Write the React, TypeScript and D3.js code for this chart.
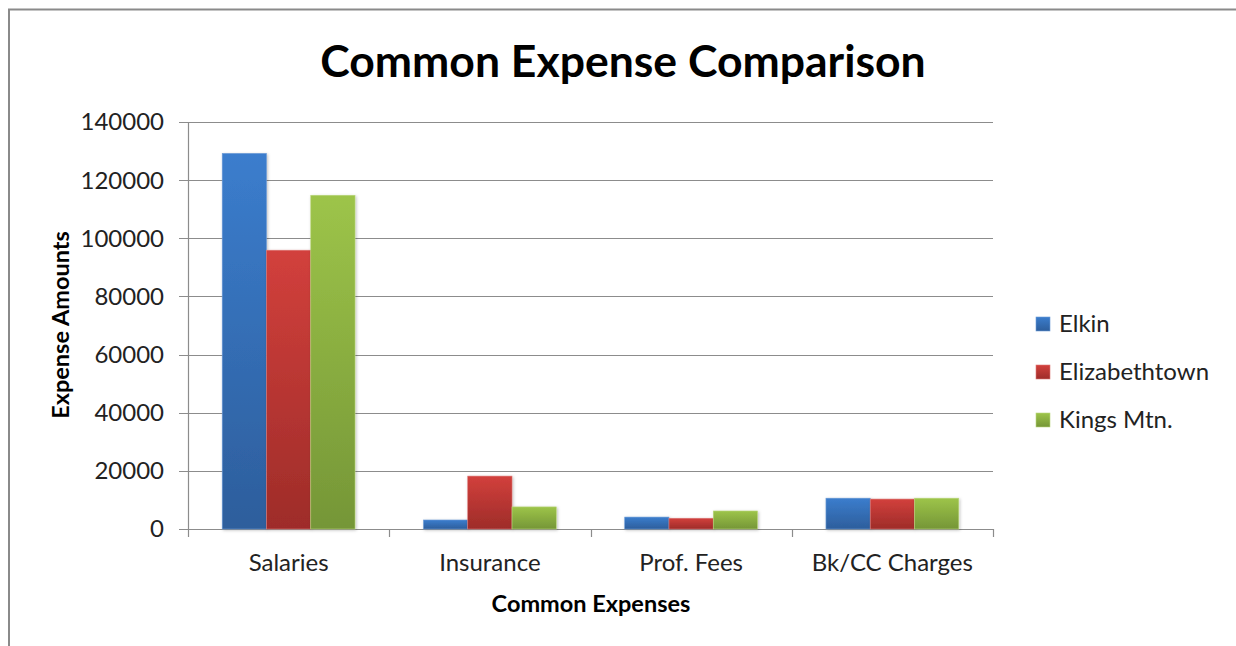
import React, { useEffect, useRef } from 'react';
import * as d3 from 'd3';

const categories = ['Salaries', 'Insurance', 'Prof. Fees', 'Bk/CC Charges'];
const seriesNames = ['Elkin', 'Elizabethtown', 'Kings Mtn.'];
const elkin = [129200, 3100, 4100, 10600];
const elizabethtown = [95900, 18200, 3700, 10300];
const kingsMtn = [114800, 7600, 6200, 10600];
const yTicks = [0, 20000, 40000, 60000, 80000, 100000, 120000, 140000];

const colors = [
  { top: '#3B7DCD', bottom: '#2D5E9C', stroke: '#6C9BD6' },
  { top: '#D2403C', bottom: '#9E2C29', stroke: '#DD7A77' },
  { top: '#9DC449', bottom: '#759637', stroke: '#BBD77F' },
];

const App: React.FC = () => {
  const svgRef = useRef<SVGSVGElement>(null);

  useEffect(() => {
    if (!svgRef.current) return;
    const svg = d3.select(svgRef.current);
    svg.selectAll('*').remove();

    const font = 'Lato, "Open Sans", sans-serif';
    const left = 188, right = 993, top = 122, bottom = 529;

    // outer frame
    svg.append('rect')
      .attr('x', 9).attr('y', 9.5)
      .attr('width', 1300).attr('height', 700)
      .attr('fill', 'white')
      .attr('stroke', '#8a8a8a').attr('stroke-width', 2);

    const defs = svg.append('defs');
    colors.forEach((c, i) => {
      const grad = defs.append('linearGradient')
        .attr('id', `grad${i}`)
        .attr('x1', 0).attr('y1', 0).attr('x2', 0).attr('y2', 1);
      grad.append('stop').attr('offset', '0%').attr('stop-color', c.top);
      grad.append('stop').attr('offset', '100%').attr('stop-color', c.bottom);
    });
    const filter = defs.append('filter').attr('id', 'shadow')
      .attr('x', '-20%').attr('y', '-20%').attr('width', '140%').attr('height', '140%');
    filter.append('feDropShadow')
      .attr('dx', 1).attr('dy', 1).attr('stdDeviation', 1.5)
      .attr('flood-color', '#000').attr('flood-opacity', 0.25);

    const x0 = d3.scaleBand().domain(categories).range([left, right]).paddingInner(0.34).paddingOuter(0.17);
    const x1 = d3.scaleBand().domain(seriesNames).range([0, x0.bandwidth()]);
    const y = d3.scaleLinear().domain([0, 140000]).range([bottom, top]);

    // gridlines
    svg.append('g').selectAll('line')
      .data(yTicks)
      .join('line')
      .attr('x1', left - 9).attr('x2', right)
      .attr('y1', d => Math.round(y(d)) + 0.5).attr('y2', d => Math.round(y(d)) + 0.5)
      .attr('stroke', '#8c8c8c').attr('stroke-width', 1.2);

    // y axis line
    svg.append('line')
      .attr('x1', left + 0.5).attr('x2', left + 0.5)
      .attr('y1', top).attr('y2', bottom)
      .attr('stroke', '#8c8c8c').attr('stroke-width', 1.2);

    // category ticks
    const catEdges = d3.range(categories.length + 1).map(i => left + (right - left) * i / categories.length);
    svg.append('g').selectAll('line')
      .data(catEdges)
      .join('line')
      .attr('x1', d => Math.round(d) + 0.5).attr('x2', d => Math.round(d) + 0.5)
      .attr('y1', bottom).attr('y2', bottom + 8)
      .attr('stroke', '#8c8c8c').attr('stroke-width', 1.2);

    // y labels
    svg.append('g').selectAll('text')
      .data(yTicks)
      .join('text')
      .attr('x', 164).attr('y', d => y(d))
      .attr('dy', '0.35em')
      .attr('text-anchor', 'end')
      .style('font-family', font).style('font-size', '24px').style('fill', '#222')
      .text(d => String(d));

    const allSeries = [elkin, elizabethtown, kingsMtn];
    allSeries.forEach((vals, si) => {
      svg.append('g')
        .attr('filter', 'url(#shadow)')
        .selectAll('rect')
        .data(vals)
        .join('rect')
        .attr('x', (_, i) => (x0(categories[i]) as number) + (x1(seriesNames[si]) as number))
        .attr('y', d => y(d))
        .attr('width', x1.bandwidth())
        .attr('height', d => bottom - y(d))
        .attr('fill', `url(#grad${si})`)
        .attr('stroke', colors[si].stroke).attr('stroke-width', 0.6);
    });

    // x labels
    svg.append('g').selectAll('text')
      .data(categories)
      .join('text')
      .attr('x', d => (x0(d) as number) + x0.bandwidth() / 2)
      .attr('y', 571)
      .attr('text-anchor', 'middle')
      .style('font-family', font).style('font-size', '24px').style('fill', '#222')
      .text(d => d);

    // title
    svg.append('text')
      .attr('x', 623).attr('y', 77)
      .attr('text-anchor', 'middle')
      .style('font-family', font).style('font-size', '44.5px').style('font-weight', 'bold')
      .style('fill', '#000')
      .text('Common Expense Comparison');

    // axis titles
    svg.append('text')
      .attr('x', 591).attr('y', 612)
      .attr('text-anchor', 'middle')
      .style('font-family', font).style('font-size', '23.5px').style('font-weight', 'bold')
      .style('fill', '#000')
      .text('Common Expenses');

    svg.append('text')
      .attr('transform', 'translate(69,325) rotate(-90)')
      .attr('text-anchor', 'middle')
      .style('font-family', font).style('font-size', '23.5px').style('font-weight', 'bold')
      .style('fill', '#000')
      .text('Expense Amounts');

    // legend
    const legend = svg.append('g').selectAll('g')
      .data(seriesNames)
      .join('g')
      .attr('transform', (_, i) => `translate(1036,${324 + i * 48})`);
    legend.append('rect')
      .attr('x', 0).attr('y', -7).attr('width', 14).attr('height', 14)
      .attr('fill', (_, i) => `url(#grad${i})`)
      .attr('stroke', (_, i) => colors[i].stroke).attr('stroke-width', 0.6);
    legend.append('text')
      .attr('x', 23).attr('y', 0).attr('dy', '0.35em')
      .style('font-family', font).style('font-size', '24px').style('fill', '#222')
      .text(d => d);
  }, []);

  return (
    <svg
      ref={svgRef}
      width={1236}
      height={646}
      style={{ position: 'absolute', left: 0, top: 0, display: 'block' }}
    />
  );
};

export default App;
